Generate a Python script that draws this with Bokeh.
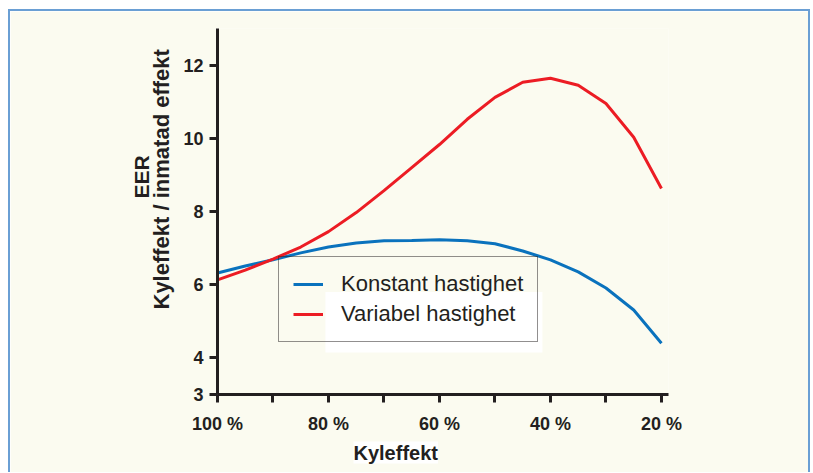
from bokeh.plotting import figure
from bokeh.models import Range1d, FixedTicker, Legend, LegendItem, BoxAnnotation, Title
from bokeh.embed import file_html
from bokeh.resources import INLINE

# ---- data ----
kyleffekt = [100, 95, 90, 85, 80, 75, 70, 65, 60, 55, 50, 45, 40, 35, 30, 25, 20]
konstant = [6.32, 6.51, 6.68, 6.87, 7.03, 7.14, 7.20, 7.21, 7.23, 7.20, 7.12, 6.92, 6.68, 6.35, 5.91, 5.31, 4.40]
variabel = [6.13, 6.40, 6.70, 7.03, 7.45, 7.97, 8.57, 9.20, 9.83, 10.52, 11.12, 11.53, 11.64, 11.45, 10.95, 10.03, 8.63]
series_names = ["Konstant hastighet", "Variabel hastighet"]
x_ticks = [100, 90, 80, 70, 60, 50, 40, 30, 20]
x_tick_labels = {100: "100 %", 80: "80 %", 60: "60 %", 40: "40 %", 20: "20 %"}
y_ticks = [3, 4, 6, 8, 10, 12]
x_title = "Kyleffekt"
y_title_1 = "EER"
y_title_2 = "Kyleffekt / inmatad effekt"

# ---- style ----
CREAM = "#fbfbf0"
INK = "#231f20"
BLUE = "#0a72bd"
RED = "#ec1c24"
EDGE = "#6a9fd4"
FONT = "Liberation Sans"

p = figure(width=798, height=461, output_backend="svg", toolbar_location=None,
           x_range=Range1d(100, 18.73), y_range=Range1d(3, 13),
           min_border_left=207, min_border_right=144, min_border_top=17, min_border_bottom=80)
p.styles = {"margin-left": "8px", "margin-top": "9px", "box-sizing": "content-box",
            "border-top": f"2px solid {EDGE}", "border-left": f"2px solid {EDGE}",
            "border-right": f"2px solid {EDGE}"}
p.background_fill_color = CREAM
p.border_fill_color = CREAM
p.outline_line_color = None
p.xgrid.visible = False
p.ygrid.visible = False

for ax in (p.xaxis[0], p.yaxis[0]):
    ax.axis_line_width = 3
    ax.axis_line_color = INK
    ax.major_tick_line_width = 3
    ax.major_tick_line_color = INK
    ax.major_tick_out = 8
    ax.major_tick_in = 0
    ax.minor_tick_out = 0
    ax.minor_tick_in = 0
    ax.major_label_text_font = FONT
    ax.major_label_text_font_style = "bold"
    ax.major_label_text_font_size = "18px"
    ax.major_label_text_color = INK

p.xaxis.ticker = FixedTicker(ticks=x_ticks, minor_ticks=[])
p.xaxis.major_label_overrides = {t: x_tick_labels.get(t, "") for t in x_ticks}
p.xaxis.major_label_standoff = 11
p.yaxis.ticker = FixedTicker(ticks=y_ticks, minor_ticks=[])
p.yaxis.major_label_standoff = 6

# white patch seen behind the legend in the original picture
p.add_layout(BoxAnnotation(left=80.55, right=41.45, top=5.80, bottom=4.15,
                           fill_color="white", fill_alpha=1, line_color=None, level="underlay"))

r1 = p.line(kyleffekt, konstant, line_width=3, line_color=BLUE)
r2 = p.line(kyleffekt, variabel, line_width=3, line_color=RED)

legend = Legend(items=[LegendItem(label=series_names[0], renderers=[r1]),
                       LegendItem(label=series_names[1], renderers=[r2])],
                location=(61, 52), margin=0, padding=14, spacing=4,
                label_height=24, glyph_height=24, glyph_width=30, label_standoff=18,
                label_text_font=FONT, label_text_font_size="22px", label_text_color=INK,
                border_line_color=INK, border_line_width=1.5, background_fill_alpha=0)
p.add_layout(legend, "center")

# axis titles
p.add_layout(Title(text=y_title_2, align="left", offset=85, standoff=14,
                   text_font=FONT, text_font_style="bold", text_font_size="22px",
                   text_color=INK), "left")
p.add_layout(Title(text=y_title_1, align="left", offset=196, standoff=-26,
                   text_font=FONT, text_font_style="bold", text_font_size="21px",
                   text_color=INK), "left")
p.add_layout(Title(text=x_title, align="left", offset=136, standoff=6,
                   text_font=FONT, text_font_style="bold", text_font_size="20px",
                   text_color=INK, background_fill_color="white"), "below")

open("out.html", "w").write(file_html(p, INLINE))
